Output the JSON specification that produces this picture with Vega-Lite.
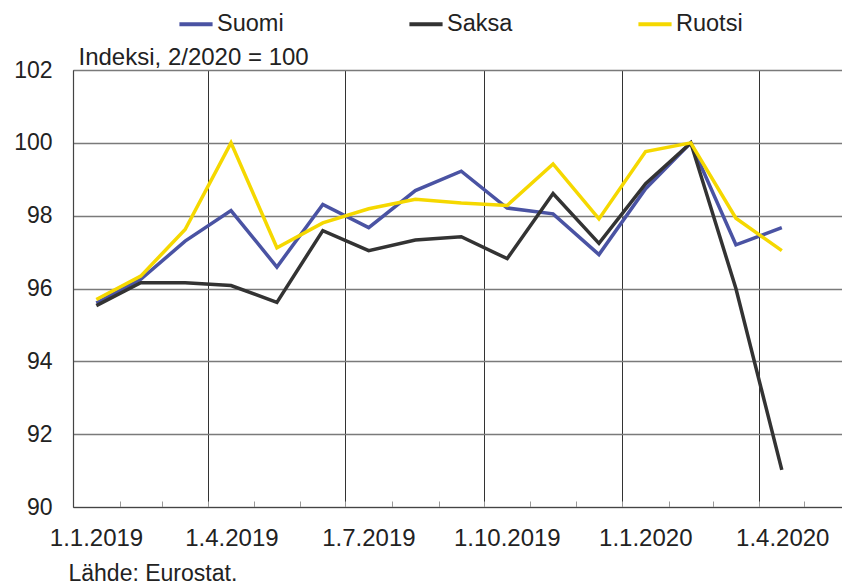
{
  "$schema": "https://vega.github.io/schema/vega-lite/v6.json",
  "width": 769,
  "height": 437,
  "autosize": {"type": "none"},
  "padding": {"left": 73, "top": 70, "right": 0, "bottom": 79},
  "background": "white",
  "config": {"view": {"stroke": null}, "font": "Liberation Sans"},
  "data": {
    "values": [
      {"kuukausi": "2019-01-01", "maa": "Suomi", "arvo": 95.6},
      {"kuukausi": "2019-02-01", "maa": "Suomi", "arvo": 96.25},
      {"kuukausi": "2019-03-01", "maa": "Suomi", "arvo": 97.3},
      {"kuukausi": "2019-04-01", "maa": "Suomi", "arvo": 98.14},
      {"kuukausi": "2019-05-01", "maa": "Suomi", "arvo": 96.59},
      {"kuukausi": "2019-06-01", "maa": "Suomi", "arvo": 98.31},
      {"kuukausi": "2019-07-01", "maa": "Suomi", "arvo": 97.67},
      {"kuukausi": "2019-08-01", "maa": "Suomi", "arvo": 98.69},
      {"kuukausi": "2019-09-01", "maa": "Suomi", "arvo": 99.22},
      {"kuukausi": "2019-10-01", "maa": "Suomi", "arvo": 98.21},
      {"kuukausi": "2019-11-01", "maa": "Suomi", "arvo": 98.05},
      {"kuukausi": "2019-12-01", "maa": "Suomi", "arvo": 96.93},
      {"kuukausi": "2020-01-01", "maa": "Suomi", "arvo": 98.74},
      {"kuukausi": "2020-02-01", "maa": "Suomi", "arvo": 100.0},
      {"kuukausi": "2020-03-01", "maa": "Suomi", "arvo": 97.2},
      {"kuukausi": "2020-04-01", "maa": "Suomi", "arvo": 97.67},
      {"kuukausi": "2019-01-01", "maa": "Saksa", "arvo": 95.53},
      {"kuukausi": "2019-02-01", "maa": "Saksa", "arvo": 96.16},
      {"kuukausi": "2019-03-01", "maa": "Saksa", "arvo": 96.16},
      {"kuukausi": "2019-04-01", "maa": "Saksa", "arvo": 96.08},
      {"kuukausi": "2019-05-01", "maa": "Saksa", "arvo": 95.62},
      {"kuukausi": "2019-06-01", "maa": "Saksa", "arvo": 97.59},
      {"kuukausi": "2019-07-01", "maa": "Saksa", "arvo": 97.04},
      {"kuukausi": "2019-08-01", "maa": "Saksa", "arvo": 97.33},
      {"kuukausi": "2019-09-01", "maa": "Saksa", "arvo": 97.42},
      {"kuukausi": "2019-10-01", "maa": "Saksa", "arvo": 96.82},
      {"kuukausi": "2019-11-01", "maa": "Saksa", "arvo": 98.61},
      {"kuukausi": "2019-12-01", "maa": "Saksa", "arvo": 97.24},
      {"kuukausi": "2020-01-01", "maa": "Saksa", "arvo": 98.88},
      {"kuukausi": "2020-02-01", "maa": "Saksa", "arvo": 100.0},
      {"kuukausi": "2020-03-01", "maa": "Saksa", "arvo": 96.0},
      {"kuukausi": "2020-04-01", "maa": "Saksa", "arvo": 91.02},
      {"kuukausi": "2019-01-01", "maa": "Ruotsi", "arvo": 95.7},
      {"kuukausi": "2019-02-01", "maa": "Ruotsi", "arvo": 96.34},
      {"kuukausi": "2019-03-01", "maa": "Ruotsi", "arvo": 97.62},
      {"kuukausi": "2019-04-01", "maa": "Ruotsi", "arvo": 100.0},
      {"kuukausi": "2019-05-01", "maa": "Ruotsi", "arvo": 97.12},
      {"kuukausi": "2019-06-01", "maa": "Ruotsi", "arvo": 97.8},
      {"kuukausi": "2019-07-01", "maa": "Ruotsi", "arvo": 98.19},
      {"kuukausi": "2019-08-01", "maa": "Ruotsi", "arvo": 98.45},
      {"kuukausi": "2019-09-01", "maa": "Ruotsi", "arvo": 98.35},
      {"kuukausi": "2019-10-01", "maa": "Ruotsi", "arvo": 98.28},
      {"kuukausi": "2019-11-01", "maa": "Ruotsi", "arvo": 99.42},
      {"kuukausi": "2019-12-01", "maa": "Ruotsi", "arvo": 97.91},
      {"kuukausi": "2020-01-01", "maa": "Ruotsi", "arvo": 99.76},
      {"kuukausi": "2020-02-01", "maa": "Ruotsi", "arvo": 100.0},
      {"kuukausi": "2020-03-01", "maa": "Ruotsi", "arvo": 97.93},
      {"kuukausi": "2020-04-01", "maa": "Ruotsi", "arvo": 97.04}
    ]
  },
  "mark": {"type": "line", "strokeWidth": 3.5},
  "encoding": {
    "x": {
      "field": "kuukausi",
      "type": "temporal",
      "timeUnit": "utcyearmonth",
      "bandPosition": 0.5,
      "scale": {
        "type": "utc",
        "domain": [
          {"year": 2019, "month": 1, "date": 1, "utc": true},
          {"year": 2020, "month": 5, "date": 26, "utc": true}
        ]
      },
      "axis": {
        "values": [
          {"year": 2019, "month": 1, "date": 1, "utc": true},
          {"year": 2019, "month": 2, "date": 1, "utc": true},
          {"year": 2019, "month": 3, "date": 1, "utc": true},
          {"year": 2019, "month": 4, "date": 1, "utc": true},
          {"year": 2019, "month": 5, "date": 1, "utc": true},
          {"year": 2019, "month": 6, "date": 1, "utc": true},
          {"year": 2019, "month": 7, "date": 1, "utc": true},
          {"year": 2019, "month": 8, "date": 1, "utc": true},
          {"year": 2019, "month": 9, "date": 1, "utc": true},
          {"year": 2019, "month": 10, "date": 1, "utc": true},
          {"year": 2019, "month": 11, "date": 1, "utc": true},
          {"year": 2019, "month": 12, "date": 1, "utc": true},
          {"year": 2020, "month": 1, "date": 1, "utc": true},
          {"year": 2020, "month": 2, "date": 1, "utc": true},
          {"year": 2020, "month": 3, "date": 1, "utc": true},
          {"year": 2020, "month": 4, "date": 1, "utc": true},
          {"year": 2020, "month": 5, "date": 1, "utc": true}
        ],
        "title": "Lähde: Eurostat.",
        "titleX": -5,
        "titleY": 73,
        "titleAlign": "left",
        "titleBaseline": "alphabetic",
        "titleFontSize": 23,
        "titleFontWeight": "normal",
        "titleColor": "#222222",
        "grid": true,
        "gridColor": "#333333",
        "gridWidth": 1,
        "gridOpacity": {"condition": {"test": "utcmonth(datum.value) % 3 === 0", "value": 1}, "value": 0},
        "ticks": true,
        "tickSize": -6,
        "tickColor": "#999999",
        "tickWidth": 1,
        "labelExpr": "utcmonth(datum.value) % 3 === 0 ? utcFormat(datum.value, '%-d.%-m.%Y') : ''",
        "labelOffset": 23,
        "labelFlush": false,
        "labelOverlap": false,
        "labelBound": false,
        "labelFontSize": 24,
        "labelColor": "#222222",
        "labelPadding": 25,
        "domainColor": "#444444",
        "domainWidth": 1.2
      }
    },
    "y": {
      "field": "arvo",
      "type": "quantitative",
      "scale": {"domain": [90, 102], "nice": false, "zero": false},
      "axis": {
        "values": [90, 92, 94, 96, 98, 100, 102],
        "grid": true,
        "gridColor": "#7a7a7a",
        "gridWidth": 1.3,
        "ticks": false,
        "labelFontSize": 23,
        "labelPadding": 21,
        "labelColor": "#222222",
        "labelFlush": false,
        "domainColor": "#444444",
        "domainWidth": 1.2,
        "title": "Indeksi, 2/2020 = 100",
        "titleAngle": 0,
        "titleX": 5,
        "titleY": -6,
        "titleAlign": "left",
        "titleBaseline": "alphabetic",
        "titleFontSize": 24,
        "titleFontWeight": "normal",
        "titleColor": "#222222"
      }
    },
    "color": {
      "field": "maa",
      "type": "nominal",
      "scale": {"domain": ["Suomi", "Saksa", "Ruotsi"], "range": ["#4a53a3", "#333333", "#f5d800"]},
      "legend": {
        "title": null,
        "orient": "none",
        "direction": "horizontal",
        "legendX": 104,
        "legendY": -65,
        "symbolType": "stroke",
        "symbolSize": 1100,
        "symbolStrokeWidth": 4,
        "labelFontSize": 23.5,
        "labelColor": "#222222",
        "labelOffset": 2,
        "columnPadding": 117
      }
    }
  }
}
